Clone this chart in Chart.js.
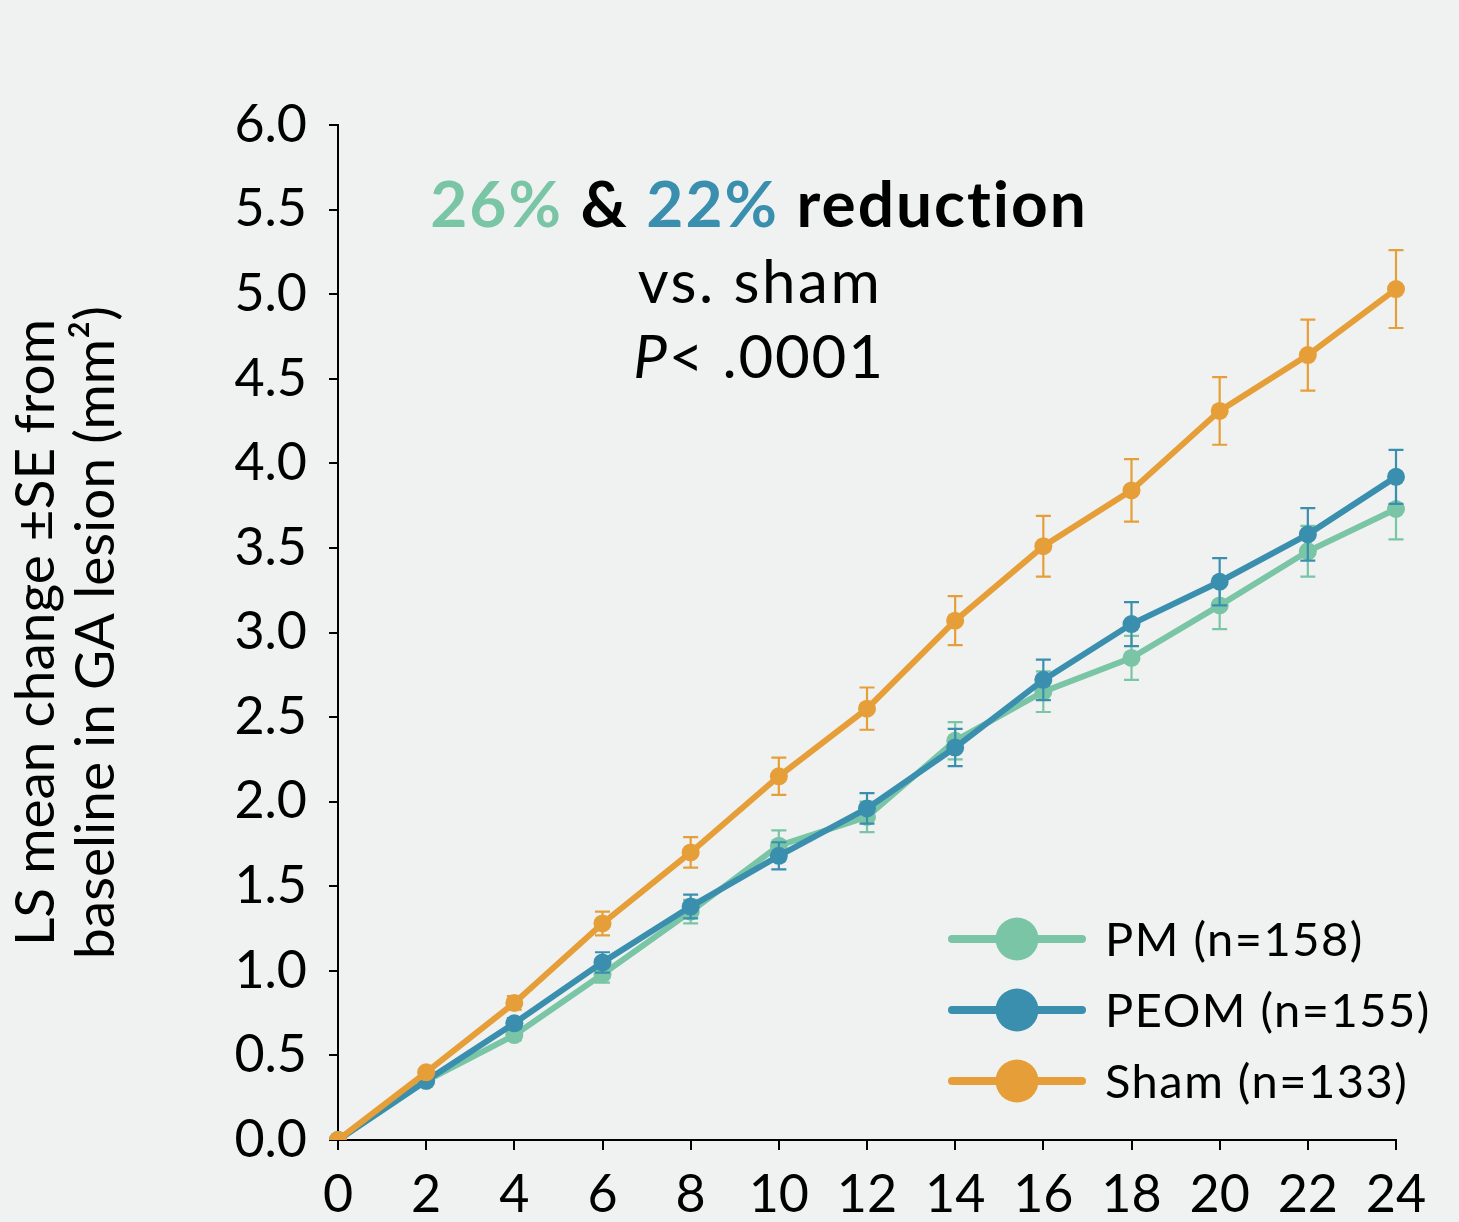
<!DOCTYPE html>
<html>
<head>
<meta charset="utf-8">
<script src="https://cdn.jsdelivr.net/npm/chart.js@4.4.1/dist/chart.umd.min.js"></script>
<style>
  html, body { margin: 0; padding: 0; background: #f0f2f1; }
  #wrap { width: 1459px; height: 1222px; }
</style>
</head>
<body>
<div id="wrap"><canvas id="chart"></canvas></div>
<script>
// LS mean change in GA lesion area over 24 months

const weeks = ['0', '2', '4', '6', '8', '10', '12', '14', '16', '18', '20', '22', '24'];
const yTicks = [0, 0.5, 1, 1.5, 2, 2.5, 3, 3.5, 4, 4.5, 5, 5.5, 6];

const seriesNames = ['PM (n=158)', 'PEOM (n=155)', 'Sham (n=133)'];
const seriesColors = ['#7ac5a6', '#3a8fae', '#e69e39'];

const pmMean = [0, 0.35, 0.62, 0.98, 1.35, 1.74, 1.91, 2.36, 2.65, 2.85, 3.16, 3.48, 3.73];
const pmSE = [0, 0.02, 0.03, 0.05, 0.07, 0.09, 0.09, 0.11, 0.12, 0.13, 0.14, 0.15, 0.18];

const peomMean = [0, 0.35, 0.69, 1.05, 1.38, 1.68, 1.96, 2.32, 2.72, 3.05, 3.30, 3.58, 3.92];
const peomSE = [0, 0.02, 0.03, 0.06, 0.07, 0.08, 0.09, 0.11, 0.12, 0.13, 0.14, 0.155, 0.16];

const shamMean = [0, 0.40, 0.81, 1.28, 1.70, 2.15, 2.55, 3.07, 3.51, 3.84, 4.31, 4.64, 5.03];
const shamSE = [0, 0.02, 0.04, 0.07, 0.09, 0.11, 0.125, 0.145, 0.18, 0.185, 0.20, 0.21, 0.23];

const FONT = 'Lato, "Noto Sans", sans-serif';

function makeSet(i, data, se, order) {
    return {
        label: seriesNames[i],
        data: data,
        errors: se,
        borderColor: seriesColors[i],
        backgroundColor: seriesColors[i],
        pointBackgroundColor: seriesColors[i],
        pointBorderWidth: 0,
        pointRadius: 9,
        borderWidth: 6,
        tension: 0,
        order: order
    };
}

// error bars, drawn just under each dataset's line
const errorBars = {
    id: 'errorBars',
    beforeDatasetDraw(chart, args) {
        const ds = chart.data.datasets[args.index];
        const meta = args.meta;
        const yScale = chart.scales.y;
        const c = chart.ctx;
        c.save();
        c.strokeStyle = ds.borderColor;
        c.lineWidth = 2.2;
        meta.data.forEach((pt, i) => {
            const se = ds.errors[i];
            if (!se) return;
            const yTop = yScale.getPixelForValue(ds.data[i] + se);
            const yBot = yScale.getPixelForValue(ds.data[i] - se);
            c.beginPath();
            c.moveTo(pt.x, yTop);
            c.lineTo(pt.x, yBot);
            c.moveTo(pt.x - 7.5, yTop);
            c.lineTo(pt.x + 7.5, yTop);
            c.moveTo(pt.x - 7.5, yBot);
            c.lineTo(pt.x + 7.5, yBot);
            c.stroke();
        });
        c.restore();
    }
};

// headline annotation and legend
const overlay = {
    id: 'overlay',
    afterDraw(chart) {
        const c = chart.ctx;
        c.save();
        c.textBaseline = 'alphabetic';

        // line 1: mixed colours
        const runs = [
            { t: '26%', col: seriesColors[0] },
            { t: ' & ', col: '#000000' },
            { t: '22%', col: seriesColors[1] },
            { t: ' reduction', col: '#000000' }
        ];
        c.font = 'bold 64px ' + FONT;
        c.letterSpacing = '2px';
        let total = 0;
        runs.forEach(r => { total += c.measureText(r.t).width; });
        let x = 759 - total / 2;
        runs.forEach(r => {
            c.fillStyle = r.col;
            c.textAlign = 'left';
            c.fillText(r.t, x, 227);
            x += c.measureText(r.t).width;
        });

        c.fillStyle = '#000000';
        c.font = '60px ' + FONT;
        c.letterSpacing = '2.5px';
        c.textAlign = 'center';
        c.fillText('vs. sham', 760, 303);

        // line 3: italic P
        c.letterSpacing = '1.8px';
        c.font = 'italic 60px ' + FONT;
        const wP = c.measureText('P').width;
        c.font = '60px ' + FONT;
        const rest = '< .0001';
        const wR = c.measureText(rest).width;
        let x3 = 759 - (wP + wR) / 2;
        c.textAlign = 'left';
        c.font = 'italic 60px ' + FONT;
        c.fillText('P', x3, 378);
        c.font = '60px ' + FONT;
        c.fillText(rest, x3 + wP, 378);

        // legend
        const rows = [939, 1010, 1081];
        c.letterSpacing = '1.5px';
        chart.data.datasets.forEach((ds, i) => {
            const y = rows[i];
            c.strokeStyle = ds.borderColor;
            c.lineWidth = 8;
            c.lineCap = 'round';
            c.beginPath();
            c.moveTo(952, y);
            c.lineTo(1082, y);
            c.stroke();
            c.fillStyle = ds.borderColor;
            c.beginPath();
            c.arc(1017, y, 21.5, 0, Math.PI * 2);
            c.fill();
            c.fillStyle = '#000000';
            c.font = '47px ' + FONT;
            c.textAlign = 'left';
            c.textBaseline = 'middle';
            c.fillText(ds.label, 1105, y + 2);
        });
        c.letterSpacing = '0px';
        c.restore();
    }
};

const chart = new Chart(document.getElementById('chart'), {
    type: 'line',
    data: {
        labels: weeks,
        datasets: [
            makeSet(0, pmMean, pmSE, 3),
            makeSet(1, peomMean, peomSE, 2),
            makeSet(2, shamMean, shamSE, 1)
        ]
    },
    options: {
        responsive: true,
        maintainAspectRatio: false,
        animation: false,
        layout: { padding: { top: 125, right: 63, bottom: 0, left: 0 } },
        plugins: {
            legend: { display: false },
            tooltip: { enabled: false }
        },
        scales: {
            x: {
                type: 'category',
                offset: false,
                border: { color: '#000000', width: 2 },
                grid: { drawOnChartArea: false, drawTicks: true, tickLength: 10, color: '#000000', lineWidth: 2 },
                ticks: { color: '#000000', font: { family: FONT, size: 52 }, padding: 14, maxRotation: 0, autoSkip: false },
                afterFit: (scale) => { scale.height = 82; }
            },
            y: {
                min: 0,
                max: 6,
                afterBuildTicks: (scale) => { scale.ticks = yTicks.map(v => ({ value: v })); },
                border: { color: '#000000', width: 2 },
                grid: { drawOnChartArea: false, drawTicks: true, tickLength: 9, color: '#000000', lineWidth: 2 },
                ticks: {
                    color: '#000000',
                    font: { family: FONT, size: 52 },
                    padding: 22,
                    callback: (v) => Number(v).toFixed(1)
                },
                title: {
                    display: true,
                    text: ['LS mean change \u00b1SE from', 'baseline in GA lesion (mm\u00b2)'],
                    color: '#000000',
                    font: { family: FONT, size: 55, lineHeight: 1.1 },
                    padding: { top: 6, bottom: 0 }
                },
                afterFit: (scale) => { scale.width = 338; }
            }
        }
    },
    plugins: [errorBars, overlay]
});
</script>
</body>
</html>
